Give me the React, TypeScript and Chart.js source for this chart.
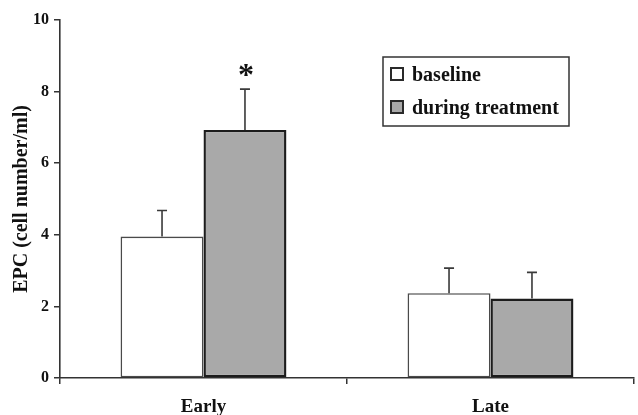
import React, { useEffect, useRef } from "react";
import { Chart, registerables } from "chart.js";

Chart.register(...registerables);

const categories = ["Early", "Late"];
const seriesLabels = ["baseline", "during treatment"];
const baselineValues = [3.95, 2.37];
const baselineErrors = [0.73, 0.7];
const treatmentValues = [6.93, 2.22];
const treatmentErrors = [1.14, 0.73];
const significance = ["", "*"]; // per series index on Early
const significantCategory = 0;
const yTicks = [0, 2, 4, 6, 8, 10];

const SERIF = "'Liberation Serif', 'Times New Roman', serif";
const DARK = "#2a2a2a";
const GRAY = "#a9a9a9";

const errorBarPlugin = {
  id: "errorBars",
  afterDatasetsDraw(chart: any) {
    const ctx = chart.ctx;
    const y = chart.scales.y;
    const errs = [baselineErrors, treatmentErrors];
    ctx.save();
    chart.data.datasets.forEach((ds: any, di: number) => {
      const meta = chart.getDatasetMeta(di);
      meta.data.forEach((bar: any, i: number) => {
        const v = ds.data[i];
        const top = y.getPixelForValue(v + errs[di][i]);
        const base = y.getPixelForValue(v);
        ctx.strokeStyle = "#3a3a3a";
        ctx.lineWidth = 1.6;
        ctx.beginPath();
        ctx.moveTo(bar.x, base);
        ctx.lineTo(bar.x, top);
        ctx.moveTo(bar.x - 5, top);
        ctx.lineTo(bar.x + 5, top);
        ctx.stroke();
        if (i === significantCategory && significance[di]) {
          ctx.fillStyle = "#111";
          ctx.font = `bold 32px ${SERIF}`;
          ctx.textAlign = "center";
          ctx.textBaseline = "alphabetic";
          ctx.fillText(significance[di], bar.x + 1, top - 4);
        }
      });
    });
    ctx.restore();
  },
};

const legendPlugin = {
  id: "boxLegend",
  afterDraw(chart: any) {
    const ctx = chart.ctx;
    const x0 = 383;
    const y0 = 57;
    const w = 186;
    const h = 69;
    ctx.save();
    ctx.strokeStyle = "#333";
    ctx.lineWidth = 1.5;
    ctx.strokeRect(x0, y0, w, h);
    const fills = ["#ffffff", GRAY];
    seriesLabels.forEach((lab, i) => {
      const my = y0 + 11 + i * 33;
      ctx.fillStyle = fills[i];
      ctx.fillRect(x0 + 8, my, 12, 12);
      ctx.strokeStyle = DARK;
      ctx.lineWidth = 2;
      ctx.strokeRect(x0 + 8, my, 12, 12);
      ctx.fillStyle = "#111";
      ctx.font = `bold 20px ${SERIF}`;
      ctx.textAlign = "left";
      ctx.textBaseline = "alphabetic";
      ctx.fillText(lab, x0 + 29, my + 13);
    });
    ctx.restore();
  },
};

export default function App() {
  const ref = useRef<HTMLCanvasElement | null>(null);
  useEffect(() => {
    document.body.style.margin = "0";
    const canvas = ref.current!;
    const chart = new Chart(canvas, {
      type: "bar",
      data: {
        labels: categories,
        datasets: [
          {
            label: seriesLabels[0],
            data: baselineValues,
            backgroundColor: "#ffffff",
            borderColor: "#4a4a4a",
            borderWidth: 1.6,
            borderSkipped: false,
          },
          {
            label: seriesLabels[1],
            data: treatmentValues,
            backgroundColor: GRAY,
            borderColor: "#1c1c1c",
            borderWidth: 2.4,
            borderSkipped: false,
          },
        ],
      },
      options: {
        animation: false,
        responsive: false,
        devicePixelRatio: 1,
        layout: { padding: { top: 20, right: 4, left: 0, bottom: 0 } },
        datasets: { bar: { categoryPercentage: 0.578, barPercentage: 1.0 } },
        plugins: {
          legend: { display: false },
          tooltip: { enabled: false },
        },
        scales: {
          x: {
            offset: true,
            grid: {
              offset: true,
              display: true,
              drawOnChartArea: false,
              drawTicks: true,
              tickLength: 6,
              color: "#333",
              lineWidth: 1.5,
            },
            border: { display: true, color: "#333", width: 1.6 },
            ticks: {
              color: "#111",
              font: { family: SERIF, size: 19, weight: "bold" },
              padding: 12,
            },
            afterFit(scale: any) {
              scale.height = 37;
            },
          },
          y: {
            min: 0,
            max: 10,
            afterBuildTicks(scale: any) {
              scale.ticks = yTicks.map((v) => ({ value: v }));
            },
            grid: {
              display: true,
              drawOnChartArea: false,
              drawTicks: true,
              tickLength: 6,
              color: "#333",
              lineWidth: 1.5,
            },
            border: { display: true, color: "#333", width: 1.6 },
            ticks: {
              color: "#111",
              font: { family: SERIF, size: 16, weight: "bold" },
              padding: 5,
            },
            title: {
              display: true,
              text: "EPC (cell number/ml)",
              color: "#111",
              font: { family: SERIF, size: 20, weight: "bold" },
              padding: { top: 10, bottom: 0 },
            },
            afterFit(scale: any) {
              scale.width = 60;
            },
          },
        },
      },
      plugins: [errorBarPlugin, legendPlugin],
    });
    return () => chart.destroy();
  }, []);
  return (
    <div style={{ position: "absolute", left: 0, top: 0, width: 638, height: 415, background: "#fff" }}>
      <canvas ref={ref} width={638} height={415} style={{ display: "block" }} />
    </div>
  );
}
